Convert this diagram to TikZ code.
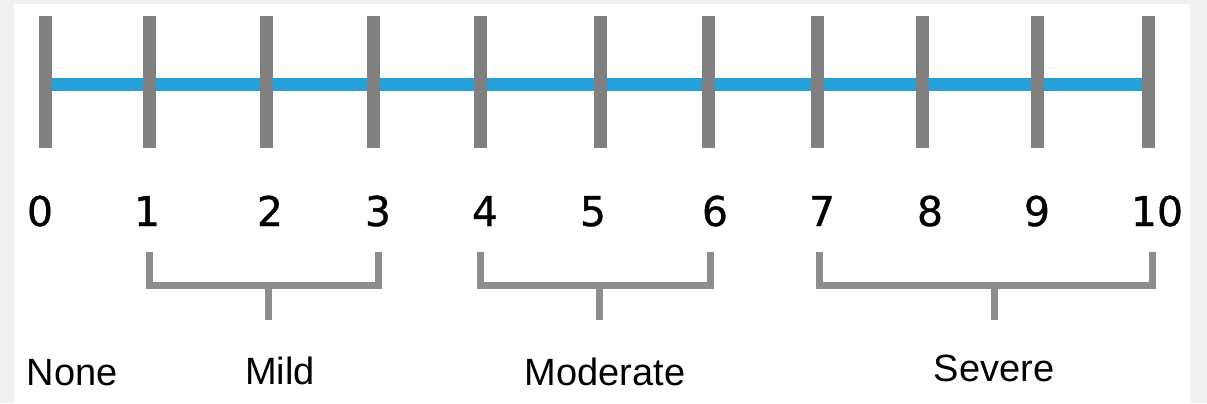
\documentclass[tikz,border=0pt]{standalone}
\usepackage{fontspec}
\setmainfont{Liberation Sans}
\newfontfamily\numfont[FakeBold=0.8]{DejaVu Sans}
\definecolor{scaleblue}{RGB}{38,160,216}
\definecolor{tickgray}{RGB}{128,128,128}
\definecolor{backgray}{RGB}{240,240,240}
\tikzset{
  tickbar/.style={tickgray, line width=6.5pt},
  bracket/.style={tickgray!90, line width=3.5pt},
  num/.style={anchor=base, inner sep=0pt, font=\numfont\fontsize{20.5}{24}\selectfont},
  level/.style={anchor=base, inner sep=0pt, font=\fontsize{19}{23}\selectfont}
}
\begin{document}
\begin{tikzpicture}[x=0.5pt,y=-0.5pt]

\useasboundingbox (0,0) rectangle (1207,403);
\fill[backgray] (0,0) rectangle (1207,403);
\fill[white] (14,4) rectangle (1190,403);

% tick positions on the scale
\foreach \i/\x in {0/45,1/149,2/266,3/373,4/480,5/600,6/708,7/817,8/922,9/1037,10/1148}{
  \coordinate (t\i) at (\x,84);
  \coordinate (top\i) at (\x,16);
  \coordinate (bot\i) at (\x,148);
}
\draw[scaleblue, line width=6.5pt] (t0) -- (t10);
\foreach \i in {0,...,10}{
  \draw[tickbar] (top\i) -- (bot\i);
}

% numbers
\foreach \i/\x in {0/40,1/147,2/270,3/378,4/485,5/593,6/715,7/822,8/930,9/1037,10/1157}{
  \node[num] (n\i) at (\x,226) {\i};
}

% brackets
\foreach \name/\l/\r/\m in {mild/149/378/268,moderate/480/710/599,severe/819/1152/994}{
  \coordinate (\name L) at (\l,252);
  \coordinate (\name R) at (\r,252);
  \coordinate (\name M) at (\m,285);
  \coordinate (\name S) at (\m,320);
  \draw[bracket] (\name L) |- (\name M) -| (\name R);
  \draw[bracket] (\name M) -- (\name S);
}

% severity labels
\node[level] (none) at (72,385) {None};
\node[level] (mild) at (280,384) {Mild};
\node[level] (moderate) at (605,385) {Moderate};
\node[level] (severe) at (994,381) {Severe};

\end{tikzpicture}
\end{document}
